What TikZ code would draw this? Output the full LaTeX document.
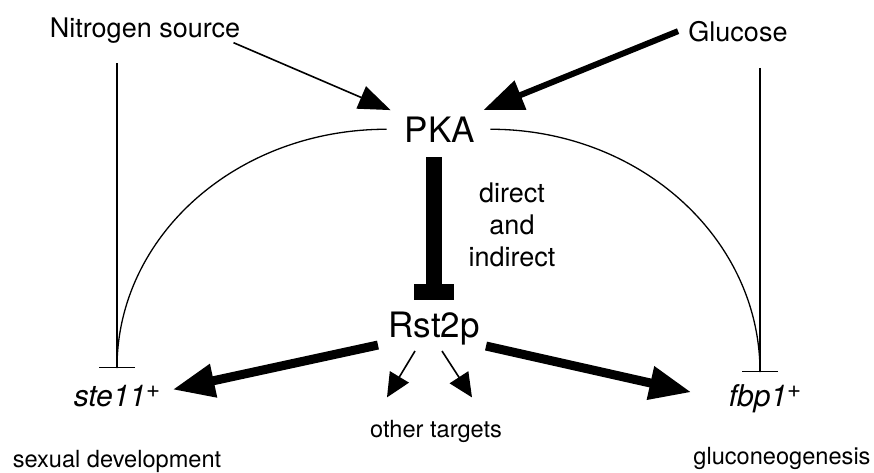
\documentclass[tikz,border=0pt]{standalone}
\usepackage{fontspec}
\setmainfont{TeX Gyre Heros}
\usetikzlibrary{arrows.meta,positioning}

\newcommand{\wt}{{\fontsize{12}{12}\selectfont\raisebox{4.5pt}{+}}}

\tikzset{
	lbl/.style={inner sep=2pt, font=\fontsize{13.5}{16}\selectfont},
	small/.style={inner sep=2pt, font=\fontsize{11.8}{14}\selectfont},
	protein/.style={inner sep=3pt, font=\fontsize{17.5}{20}\selectfont},
	gene/.style={inner sep=2pt, font=\fontsize{15}{18}\selectfont\itshape},
	link/.style={line width=0.65pt},
	blocks/.style={line width=0.7pt, -{Bar[width=18pt]}},
	represses/.style={line width=8pt, -{Rectangle[length=8pt,width=20pt]}},
	activates/.style={line width=0.8pt, -{Triangle[length=16pt,width=12pt]}},
	strongact/.style={line width=3pt, -{Triangle[length=20pt,width=15pt]}},
	fatarrow/.style={line width=4.5pt, -{Triangle[length=21pt,width=16pt]}},
	smallarrow/.style={line width=0.8pt, -{Triangle[length=12pt,width=11pt]}}
}

\begin{document}
\begin{tikzpicture}[x=0.5pt,y=-0.5pt]
	\useasboundingbox (0,0) rectangle (874,472);

	% signals and kinase
	\node[lbl, anchor=base] (nitro) at (145,37) {Nitrogen source};
	\node[lbl, anchor=base] (glc) at (738,41) {Glucose};
	\node[protein, anchor=base] (pka) at (440,142) {PKA};
	\node[protein, anchor=base] (rst) at (434,337) {Rst2p};
	\node[lbl, align=center] (how) at (512,225) {direct\\and\\indirect};

	% targets
	\node[gene, anchor=base] (ste) at (117,406) {ste11\wt};
	\node[gene, anchor=base] (fbp) at (765,406) {fbp1\wt};
	\node[small, anchor=base] (other) at (436,437) {other targets};
	\node[small, anchor=base] (sexdev) at (117,467) {sexual development};
	\node[small, anchor=base] (gluconeo) at (782,464) {gluconeogenesis};

	\coordinate[above=19pt of ste.base] (steBar);
	\coordinate[above=17pt of fbp.base, xshift=-2.5pt] (fbpBar);

	% inputs to PKA
	\draw[activates] ([shift={(-5.5pt,2.3pt)}]nitro.south east) -- ([xshift=-4pt]pka.north west);
	\draw[strongact] ([xshift=-3pt]glc.west) -- ([xshift=1pt]pka.north east);

	% repression of the two genes
	\draw[blocks, shorten <=8pt] (steBar |- nitro.south) -- (steBar);
	\draw[blocks, shorten <=11pt] (fbpBar |- glc.south) -- (fbpBar);
	\draw[link] ([xshift=-6pt]pka.west) .. controls +(-75pt,0) and +(0,66pt) .. (steBar);
	\draw[link] ([xshift=4.5pt]pka.east) .. controls +(74.5pt,0) and +(0,67pt) .. (fbpBar);

	% PKA -| Rst2p
	\draw[represses, shorten <=4.5pt, shorten >=2.5pt] (rst.north |- pka.south) -- (rst.north);

	% Rst2p activates
	\draw[fatarrow] ([shift={(-2pt,3pt)}]rst.south west) -- ([shift={(4pt,3pt)}]ste.east);
	\draw[fatarrow] ([yshift=2.5pt]rst.south east) -- ([shift={(-16.5pt,3pt)}]fbp.west);
	\draw[smallarrow] ([xshift=-9.5pt]rst.south) -- ([shift={(-24.5pt,9pt)}]other.north);
	\draw[smallarrow] ([xshift=4pt]rst.south) -- ([shift={(18pt,9pt)}]other.north);
\end{tikzpicture}
\end{document}
